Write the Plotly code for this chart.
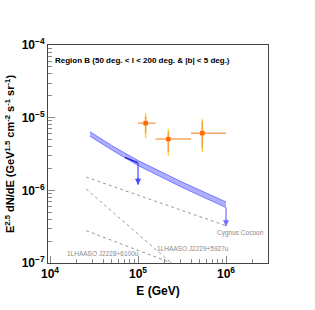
import math
import plotly.graph_objects as go

# ---- data ----
band_E = [2.85e4, 5.0e4, 1.0e5, 3.16e5, 1.0e6]
band_upper = [6.4e-6, 4.15e-6, 2.57e-6, 1.3e-6, 6.9e-7]
band_lower = [5.55e-6, 3.62e-6, 2.2e-6, 1.1e-6, 5.8e-7]

seg_E = [7.1e4, 1.0e5]
seg_F = [2.85e-6, 2.38e-6]

ul_E = [1.0e5, 1.0e6]
ul_from = [2.38e-6, 5.8e-7]
ul_to = [1.19e-6, 3.2e-7]

pt_E = [1.22e5, 2.21e5, 5.38e5]
pt_F = [8.4e-6, 5.07e-6, 6.12e-6]
pt_Elo = [1.0e5, 1.58e5, 4.0e5]
pt_Ehi = [1.58e5, 4.0e5, 1.0e6]
stat_hi = [1.04e-5, 6.32e-6, 8.84e-6]
stat_lo = [6.14e-6, 3.42e-6, 3.88e-6]
sys_hi = [1.15e-5, 7.0e-6, 9.53e-6]
sys_lo = [5.22e-6, 3.0e-6, 3.36e-6]

cyg_E = [2.57e4, 1.0e6]
cyg_F = [1.52e-6, 3.26e-7]
j2229_E = [2.57e4, 2.4e5]
j2229_F = [1.04e-6, 1.0e-7]
j2228_E = [2.57e4, 2.4e5]
j2228_F = [2.79e-7, 1.0e-7]

xtick_vals = [1e4, 1e5, 1e6]
xtick_text = ["10<sup>4</sup>", "10<sup>5</sup>", "10<sup>6</sup>"]
ytick_vals = [1e-7, 1e-6, 1e-5, 1e-4]
ytick_text = ["10<sup>\u22127</sup>", "10<sup>\u22126</sup>", "10<sup>\u22125</sup>", "10<sup>\u22124</sup>"]

FONT = "Liberation Sans, Arial, Helvetica, sans-serif"
fig = go.Figure()

# band
fig.add_trace(go.Scatter(x=band_E, y=band_upper, mode="lines",
                         line=dict(color="rgba(110,110,255,0.9)", width=1), showlegend=False))
fig.add_trace(go.Scatter(x=band_E, y=band_lower, mode="lines", fill="tonexty",
                         fillcolor="rgba(140,140,255,0.7)",
                         line=dict(color="rgba(110,110,255,0.9)", width=1), showlegend=False))

# dashed source lines
for xs, ys in [(cyg_E, cyg_F), (j2229_E, j2229_F), (j2228_E, j2228_F)]:
    fig.add_trace(go.Scatter(x=xs, y=ys, mode="lines",
                             line=dict(color="#9a9a9a", width=1, dash="dot"), showlegend=False))

# dark segment
fig.add_trace(go.Scatter(x=seg_E, y=seg_F, mode="lines",
                         line=dict(color="#1a1ae0", width=1.3), showlegend=False))

# upper limit arrows
ul_colors = ["#4a4aff", "#7070ff"]
for e, f0, f1, c in zip(ul_E, ul_from, ul_to, ul_colors):
    fig.add_trace(go.Scatter(x=[e, e], y=[f0, f1], mode="lines",
                             line=dict(color=c, width=1.2), showlegend=False))
    fig.add_annotation(x=math.log10(e), y=math.log10(f1),
                       ax=math.log10(e), ay=math.log10(f1) + 0.12,
                       xref="x", yref="y", axref="x", ayref="y", text="",
                       showarrow=True, arrowhead=2, arrowsize=1.1, arrowwidth=1.1,
                       arrowcolor=c)

# points: systematic (yellow) and statistical (orange)
fig.add_trace(go.Scatter(
    x=pt_E, y=pt_F, mode="markers", marker=dict(size=1, color="rgba(0,0,0,0)"),
    error_y=dict(type="data", symmetric=False,
                 array=[h - f for h, f in zip(sys_hi, pt_F)],
                 arrayminus=[f - l for l, f in zip(sys_lo, pt_F)],
                 color="#f7d23a", thickness=1.5, width=0),
    showlegend=False))
fig.add_trace(go.Scatter(
    x=pt_E, y=pt_F, mode="markers",
    marker=dict(symbol="square", size=4.5, color="#ff6a00"),
    error_x=dict(type="data", symmetric=False,
                 array=[h - e for h, e in zip(pt_Ehi, pt_E)],
                 arrayminus=[e - l for l, e in zip(pt_Elo, pt_E)],
                 color="rgba(245,150,70,0.85)", thickness=1.5, width=0),
    error_y=dict(type="data", symmetric=False,
                 array=[h - f for h, f in zip(stat_hi, pt_F)],
                 arrayminus=[f - l for l, f in zip(stat_lo, pt_F)],
                 color="rgba(245,150,70,0.85)", thickness=1.5, width=0),
    showlegend=False))

minor_x = [m * 10 ** p for p in (3, 4, 5, 6) for m in range(2, 10)]
minor_y = [m * 10 ** p for p in (-8, -7, -6, -5) for m in range(2, 10)]

fig.update_xaxes(type="log", range=[3.977, 6.477], automargin=False,
                 tickvals=xtick_vals, ticktext=xtick_text,
                 ticks="inside", ticklen=7, tickcolor="#888", tickwidth=1,
                 minor=dict(tickvals=minor_x, ticks="inside", ticklen=4, tickcolor="#888"),
                 showline=True, linecolor="#444", linewidth=1, mirror=True,
                 showgrid=False, zeroline=False,
                 tickfont=dict(family=FONT, size=12, color="black", weight="bold"),
                 title=dict(text="E (GeV)", standoff=6,
                            font=dict(family=FONT, size=12, color="black", weight="bold")))
fig.update_yaxes(type="log", range=[-7, -4], automargin=False,
                 tickvals=ytick_vals, ticktext=ytick_text,
                 ticks="inside", ticklen=7, tickcolor="#888", tickwidth=1,
                 minor=dict(tickvals=minor_y, ticks="inside", ticklen=4, tickcolor="#888"),
                 showline=True, linecolor="#444", linewidth=1, mirror=True,
                 showgrid=False, zeroline=False,
                 tickfont=dict(family=FONT, size=12, color="black", weight="bold"),
                 title=dict(text="E<sup>2.5</sup> dN/dE (GeV<sup>1.5</sup> cm<sup>-2</sup> s<sup>-1</sup> sr<sup>-1</sup>)",
                            standoff=4,
                            font=dict(family=FONT, size=11, color="black", weight="bold")))

def px2paper(px, py):
    return (px - 48) / 220.0, (263.3 - py) / 218.3

tx, ty = px2paper(53, 61)
fig.add_annotation(x=tx, y=ty, xref="paper", yref="paper", xanchor="left", yanchor="middle",
                   text="Region B (50 deg. < l < 200 deg. & |b| < 5 deg.)", showarrow=False,
                   font=dict(family=FONT, size=8, color="black", weight="bold"))
for label, (px, py) in [("Cygnus Cocoon", (240, 233)),
                        ("1LHAASO J2229+5927u", (193, 249)),
                        ("1LHAASO J2228+6100u", (103, 254))]:
    ax_, ay_ = px2paper(px, py)
    fig.add_annotation(x=ax_, y=ay_, xref="paper", yref="paper", xanchor="center", yanchor="middle",
                       text=label, showarrow=False,
                       font=dict(family=FONT, size=6.5, color="#8a8a8a"))

fig.update_layout(width=315, height=310, margin=dict(l=48, r=47, t=45, b=47, autoexpand=False),
                  paper_bgcolor="white", plot_bgcolor="white", showlegend=False)
fig.write_html("out.html", config={"displayModeBar": False},
               post_script="document.body.style.margin='0';")
